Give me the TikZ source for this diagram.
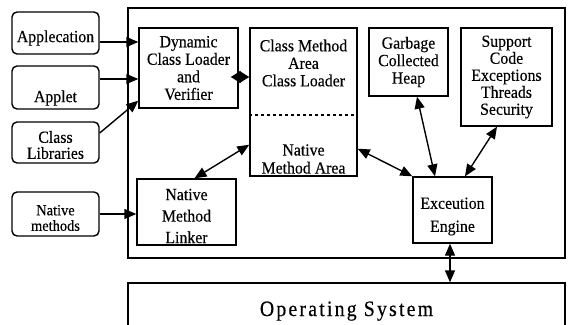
\documentclass[tikz,border=0pt]{standalone}
\usepackage{fontspec}
\setmainfont{Liberation Serif}[FakeStretch=0.93,FakeBold=0.3]
\newfontfamily\osfont{Liberation Serif}[FakeStretch=0.9,LetterSpace=10,FakeBold=0.3]
\usetikzlibrary{arrows.meta}
\tikzset{
  every node/.style={font=\fontsize{17}{17.5}\selectfont},
  box/.style={draw, line width=1.4pt, inner sep=0pt, align=center},
  rbox/.style={box, rounded corners=5pt},
  txt/.style={inner sep=0pt, align=center},
  arr/.style={-{Triangle[length=12pt,width=10pt]}, line width=1.4pt},
  darr/.style={{Triangle[length=12pt,width=10pt]}-{Triangle[length=12pt,width=10pt]}, line width=1.4pt},
  diam/.style={{Triangle[length=10pt,width=12pt]}-{Triangle[length=10pt,width=12pt]}, line width=1.4pt}
}
\begin{document}
\begin{tikzpicture}[x=1pt,y=-1pt]
\useasboundingbox (0,0) rectangle (569,324);
% outer frames
\node[box, minimum width=437pt, minimum height=250pt] (jvm) at (346.5,133) {};
\node[box, minimum width=437pt, minimum height=57pt] (os) at (346.5,311.5) {};
\node[txt, anchor=base] (osT) at (346.5,316) {\osfont\fontsize{22}{23}\selectfont Operating System};
% left inputs
\node[rbox, minimum width=87pt, minimum height=42pt] (app) at (55.5,33) {};
\node[txt] (appT) at (55.5,38) {Applecation};
\node[rbox, minimum width=87pt, minimum height=43pt] (apl) at (55.5,87.5) {};
\node[txt] (aplT) at (55.5,98) {Applet};
\node[rbox, minimum width=87pt, minimum height=41pt] (cl) at (55.5,142.5) {};
\node[txt, font=\fontsize{17}{16}\selectfont] (clT) at (55.5,145) {Class\\Libraries};
\node[rbox, minimum width=87pt, minimum height=44pt] (nm) at (55.5,214) {};
\node[txt, font=\fontsize{15.5}{15.5}\selectfont] (nmT) at (55.5,218) {Native\\methods};
% inner boxes
\node[box, minimum width=99pt, minimum height=80pt, font=\fontsize{17}{17.5}\selectfont] (dcl) at (188.5,68) {Dynamic\\Class Loader\\and\\Verifier};
\node[box, minimum width=107pt, minimum height=148pt] (cma) at (303.5,102) {};
\draw[dashed, line width=1.4pt] (cma.west |- 0,115) -- (cma.east |- 0,115);
\node[txt] (cmaT) at (303.5,63) {Class Method\\Area\\Class Loader};
\node[txt, font=\fontsize{17}{18}\selectfont] (nmaT) at (303.5,159) {Native\\Method Area};
\node[box, minimum width=79pt, minimum height=68pt, font=\fontsize{17}{17.5}\selectfont] (gc) at (408.5,62) {Garbage\\Collected\\Heap};
\node[box, minimum width=91pt, minimum height=98pt, font=\fontsize{17}{17}\selectfont] (sup) at (506.5,77) {Support\\Code\\Exceptions\\Threads\\Security};
\node[box, minimum width=99pt, minimum height=66pt] (nml) at (186.5,212) {};
\node[txt, font=\fontsize{17}{21.5}\selectfont] (nmlT) at (186.5,216) {Native\\Method\\Linker};
\node[box, minimum width=79pt, minimum height=66pt] (ee) at (452.5,210) {};
\node[txt, font=\fontsize{17}{23}\selectfont] (eeT) at (452.5,216.5) {Exceution\\Engine};
% connectors
\draw[arr] ([yshift=-9pt]app.east) -- ([yshift=-9pt]app.east -| dcl.west);
\draw[arr] ([yshift=8.5pt]apl.east) -- ([yshift=8.5pt]apl.east -| dcl.west);
\draw[arr] ([yshift=9.5pt]cl.east) -- ([yshift=8pt]dcl.south west);
\draw[arr] (nm.east) -- (nm.east -| nml.west);
\draw[diam] ([xshift=-8pt,yshift=-9pt]dcl.east) -- ([yshift=-9pt]dcl.east -| cma.west);
\draw[darr] ([xshift=8pt]nml.north) -- ([yshift=32pt]cma.south west);
\draw[darr] ([yshift=28pt]cma.south east) -- (ee.north west);
\draw[darr] ([xshift=8.5pt]gc.south) -- ([xshift=-17.5pt]ee.north);
\draw[darr] ([xshift=-9.5pt]sup.south) -- ([xshift=12.5pt]ee.north);
\draw[darr] ([xshift=-2.5pt]ee.south) -- ([xshift=-2.5pt]ee.south |- os.north);
\end{tikzpicture}
\end{document}
